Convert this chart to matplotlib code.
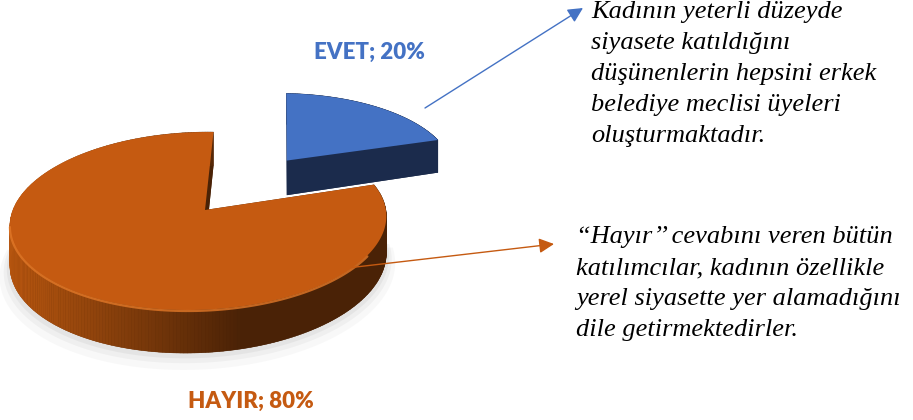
import numpy as np
import matplotlib
matplotlib.use('Agg')
import matplotlib.pyplot as plt
from matplotlib.patches import Polygon
from matplotlib.colors import to_rgb

# data
labels = ['EVET', 'HAYIR']
values = [20, 80]
explode = [0.76, 0.0]
top_colors = ['#4472C4', '#C55A11']
side_colors = ['#1B2B4C', '#4A2206']
label_pos = [(369, 52), (251, 401)]

note_evet = ('Kadının yeterli düzeyde\nsiyasete katıldığını\n'
             'düşünenlerin hepsini erkek\nbelediye meclisi üyeleri\n'
             'oluşturmaktadır.')
note_hayir = ('“Hayır’’ cevabını veren bütün\nkatılımcılar, kadının özellikle\n'
              'yerel siyasette yer alamadığını\ndile getirmektedirler.')

# projection of the tilted disc (pixel coords, y down)
CX, CY = 205, 210
S, SY, SZ, K, KX, XC = 184, 87.6, 37.7, 0.1236, 0.03, 0.42


def proj(x, y, z):
    w = 1 + K * y + KX * x
    return CX + S * XC + S * (x - XC) / w, CY - (SY * y + SZ * z) / w


fig = plt.figure(figsize=(9.13, 4.2), dpi=100)
ax = fig.add_axes([0, 0, 1, 1])
ax.set_xlim(0, 913)
ax.set_ylim(420, 0)
ax.axis('off')

# soft shadow under the front of the pie
tt = np.radians(np.linspace(175, 365, 200))
for grow, dz, a in [(1.05, -1.25, 0.05), (1.03, -1.15, 0.07), (1.015, -1.08, 0.09)]:
    pts = [proj(grow * np.cos(t), grow * np.sin(t), dz) for t in tt]
    ax.add_patch(Polygon(pts, closed=True, fc='#808080', ec='none', alpha=a, zorder=1))

cum = 0
slices = []
for i, v in enumerate(values):
    a0 = 90 - cum * 3.6
    a1 = a0 - v * 3.6
    cum += v
    mid = np.radians((a0 + a1) / 2)
    ox, oy = explode[i] * np.cos(mid), explode[i] * np.sin(mid)
    slices.append((a0, a1, ox, oy))

# draw blue (back) first, orange in front
for i in [0, 1]:
    a0, a1, ox, oy = slices[i]
    ts = np.radians(np.linspace(a1, a0, 300))
    z0 = 10 * i + 2
    top = [proj(ox, oy, 0)] + [proj(ox + np.cos(t), oy + np.sin(t), 0) for t in ts]
    bot = [proj(ox, oy, -1)] + [proj(ox + np.cos(t), oy + np.sin(t), -1) for t in ts]
    ax.add_patch(Polygon(bot, closed=True, fc=side_colors[i], ec='none', zorder=z0))

    # radial faces
    for a in (a0, a1):
        t = np.radians(a)
        quad = [proj(ox, oy, 0), proj(ox + np.cos(t), oy + np.sin(t), 0),
                proj(ox + np.cos(t), oy + np.sin(t), -1), proj(ox, oy, -1)]
        ax.add_patch(Polygon(quad, closed=True, fc=side_colors[i], ec='none', zorder=z0 + 1))

    # outer side with shading
    c_l = np.array(to_rgb('#B5550F')) if i == 1 else np.array(to_rgb(side_colors[0]))
    c_r = np.array(to_rgb(side_colors[i]))
    for j in range(len(ts) - 1):
        t_a, t_b = ts[j], ts[j + 1]
        quad = [proj(ox + np.cos(t_a), oy + np.sin(t_a), 0),
                proj(ox + np.cos(t_b), oy + np.sin(t_b), 0),
                proj(ox + np.cos(t_b), oy + np.sin(t_b), -1),
                proj(ox + np.cos(t_a), oy + np.sin(t_a), -1)]
        sx = quad[0][0]
        f = np.clip((sx - 15) / 225, 0, 1)
        col = c_l * (1 - f) + c_r * f
        ax.add_patch(Polygon(quad, closed=True, fc=col, ec=col, lw=0.3, zorder=z0 + 2))

    ax.add_patch(Polygon(top, closed=True, fc=top_colors[i], ec='none', zorder=z0 + 3))

    # light rim on the front edge of the orange top
    if i == 1:
        rim_t = np.radians(np.linspace(190, 330, 100))
        rim = np.array([proj(np.cos(t), np.sin(t), 0) for t in rim_t])
        ax.plot(rim[:, 0], rim[:, 1] + 1, color='#E27828', lw=1.6, alpha=0.8,
                solid_capstyle='round', zorder=z0 + 4)

# data labels
for i, lab in enumerate(labels):
    ax.text(label_pos[i][0], label_pos[i][1], f'{lab}; {values[i]}%',
            color=top_colors[i], fontsize=16, fontweight='heavy', family='Lato',
            ha='center', va='center', zorder=30)

# callout arrows
ax.annotate('', xy=(583, 8), xytext=(425, 108),
            arrowprops=dict(arrowstyle='-|>,head_length=0.9,head_width=0.45',
                            color='#4472C4', lw=1, shrinkA=0, shrinkB=0), zorder=25)
ax.annotate('', xy=(554, 244), xytext=(330, 270),
            arrowprops=dict(arrowstyle='-|>,head_length=0.9,head_width=0.45',
                            color='#C55A11', lw=1, shrinkA=0, shrinkB=0), zorder=25)

serif = ['Liberation Serif', 'DejaVu Serif']
ax.text(591, 1, note_evet, family=serif, style='italic', fontsize=19,
        va='top', ha='left', linespacing=1.53, color='black', zorder=30)
ax.text(576, 226, note_hayir, family=serif, style='italic', fontsize=19,
        va='top', ha='left', linespacing=1.53, color='black', zorder=30)

fig.savefig('out.png', dpi=100)
